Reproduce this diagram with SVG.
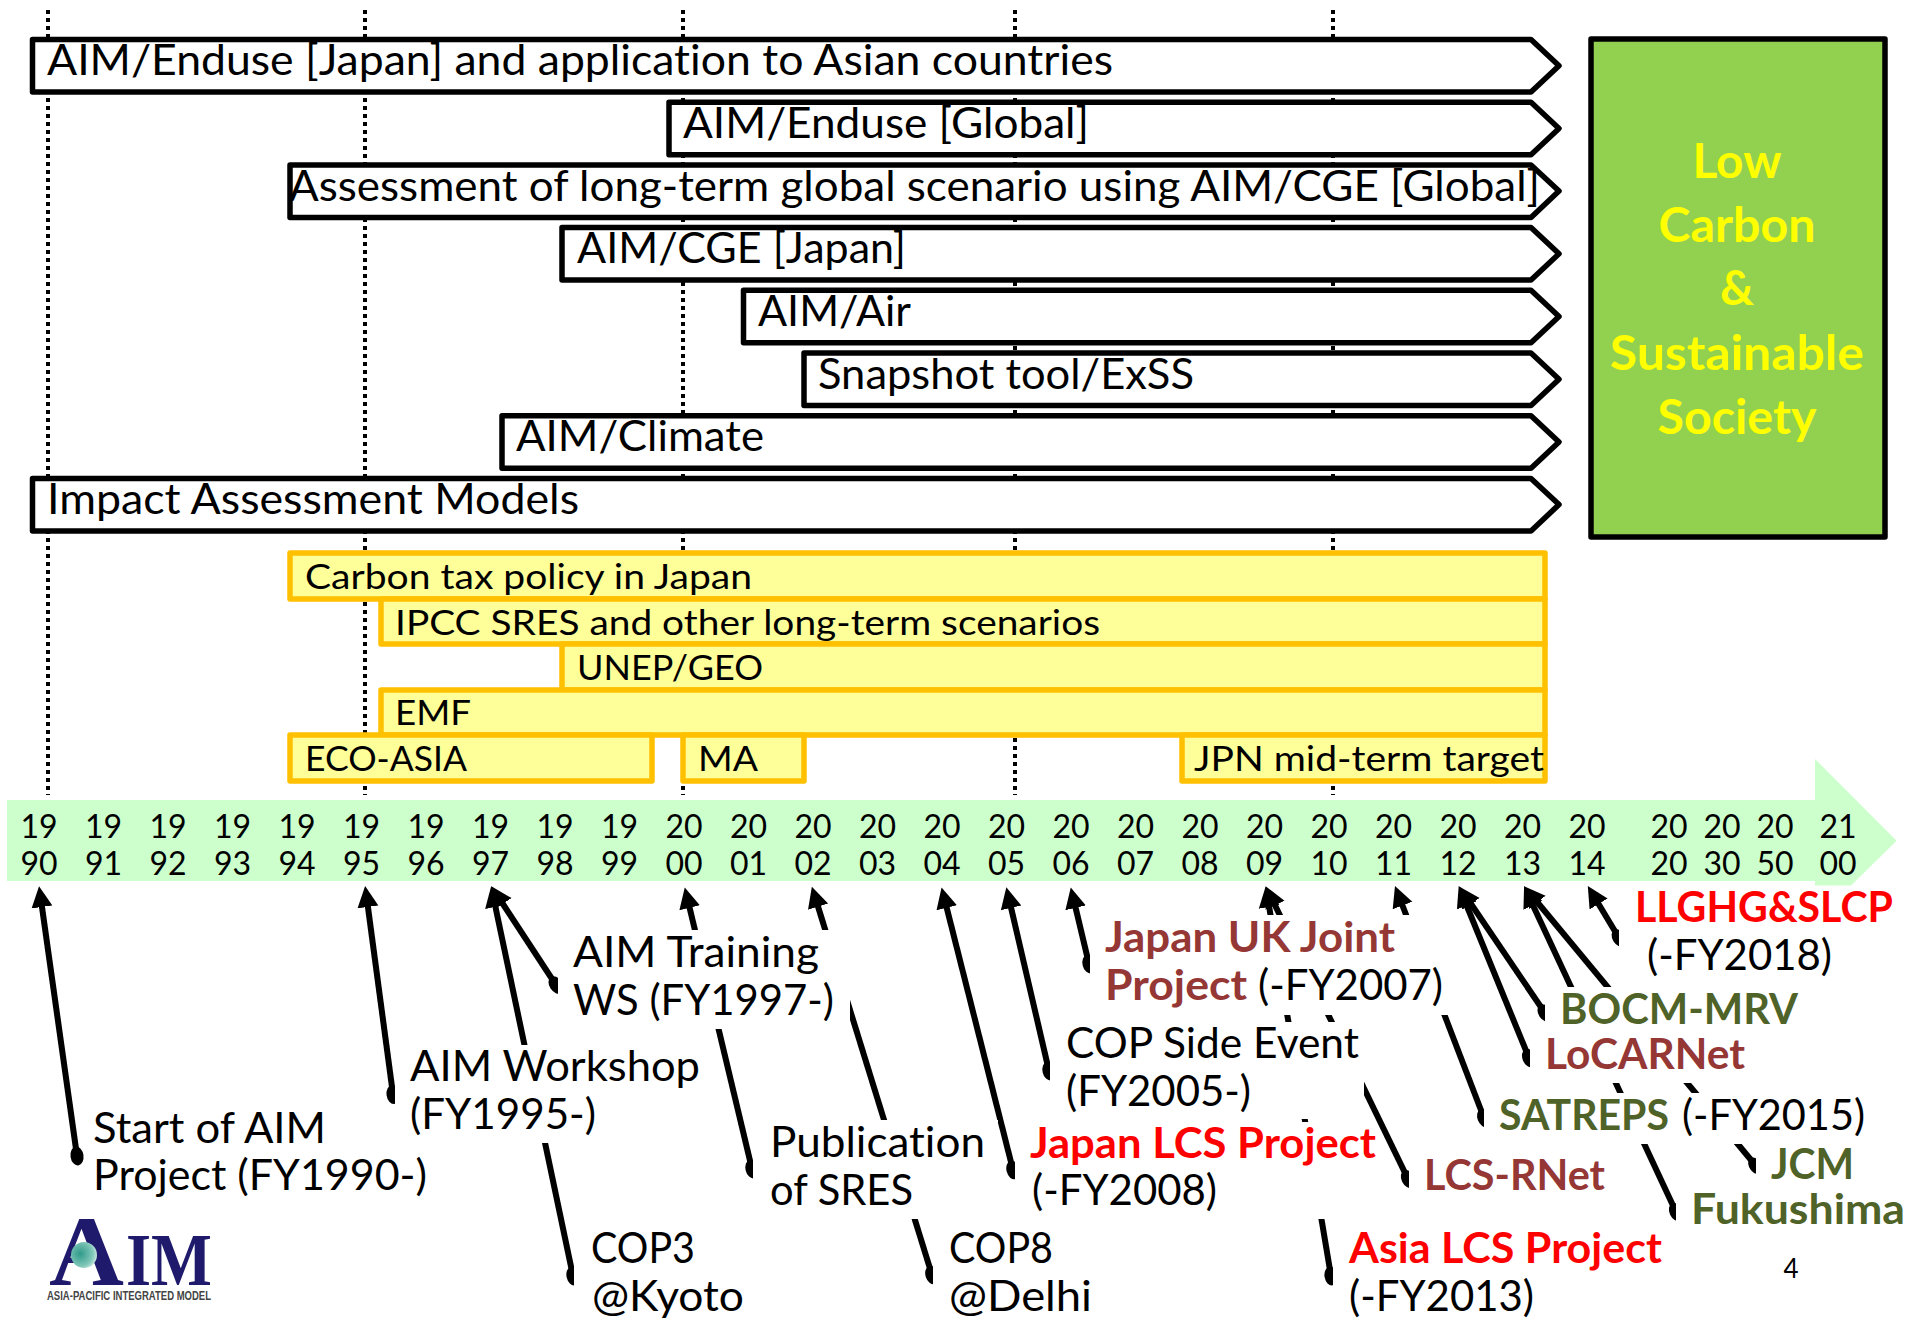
<svg xmlns="http://www.w3.org/2000/svg" width="1918" height="1318" viewBox="0 0 1918 1318">
<style>
text{font-family:"Lato","Liberation Sans",sans-serif;fill:#000;font-variant-ligatures:none}
.c{font-size:42px}.y{font-size:34px}.d{font-size:32px;text-anchor:middle}.l{font-size:42px}
.b{font-weight:700}.red{fill:#f00}.brn{fill:#953735}.olv{fill:#4f6228}
.chev{fill:#fff;stroke:#000;stroke-width:5.5;stroke-linejoin:round}
.bar{fill:#ffff99;stroke:#ffc000;stroke-width:5.5;stroke-linejoin:round}
.dash{stroke:#000;stroke-width:4;stroke-dasharray:4 4;fill:none}
.conn{stroke:#000;stroke-width:6;fill:none;marker-start:url(#head);marker-end:url(#tail)}
.mask{fill:#fff}
</style>
<defs>
<marker id="head" markerUnits="userSpaceOnUse" markerWidth="24" markerHeight="24" refX="7" refY="12" orient="auto-start-reverse"><path d="M0 1.5L21 12L0 22.5Z" fill="#000"/></marker>
<marker id="tail" markerUnits="userSpaceOnUse" markerWidth="20" markerHeight="16" refX="10" refY="8" orient="auto"><ellipse cx="10" cy="8" rx="9.5" ry="6.5" fill="#000"/></marker>
<radialGradient id="globe" cx="0.35" cy="0.45" r="0.8"><stop offset="0" stop-color="#2f9a8a"/><stop offset="0.6" stop-color="#7fc6b8"/><stop offset="1" stop-color="#ffffff"/></radialGradient>
</defs>
<rect width="1918" height="1318" fill="#fff"/>
<g id="guides">
<path class="dash" d="M48 10V795M365 10V795M683 10V795M1015 10V795M1333 10V795"/>
</g>
<g id="models">
<g id="m1"><path class="chev" d="M32.5 39.5H1531L1559 65.7L1531 92H32.5Z"/><text class="c" x="47" y="75" textLength="1066" lengthAdjust="spacingAndGlyphs">AIM/Enduse [Japan] and application to Asian countries</text></g>
<g id="m2"><path class="chev" d="M669 102.2H1531L1559 128.4L1531 154.7H669Z"/><text class="c" x="683" y="137.7" textLength="406" lengthAdjust="spacingAndGlyphs">AIM/Enduse [Global]</text></g>
<g id="m3"><path class="chev" d="M290 164.9H1531L1559 191.1L1531 217.4H290Z"/><text class="c" x="289" y="201" textLength="1251" lengthAdjust="spacingAndGlyphs">Assessment of long-term global scenario using AIM/CGE [Global]</text></g>
<g id="m4"><path class="chev" d="M562 227.6H1531L1559 253.8L1531 280.1H562Z"/><text class="c" x="577" y="263.1" textLength="329" lengthAdjust="spacingAndGlyphs">AIM/CGE [Japan]</text></g>
<g id="m5"><path class="chev" d="M743.5 290.3H1531L1559 316.5L1531 342.8H743.5Z"/><text class="c" x="758" y="325.8" textLength="153" lengthAdjust="spacingAndGlyphs">AIM/Air</text></g>
<g id="m6"><path class="chev" d="M804 353H1531L1559 379.2L1531 405.5H804Z"/><text class="c" x="818" y="388.5" textLength="376" lengthAdjust="spacingAndGlyphs">Snapshot tool/ExSS</text></g>
<g id="m7"><path class="chev" d="M502 415.7H1531L1559 441.9L1531 468.2H502Z"/><text class="c" x="516" y="451.2" textLength="248" lengthAdjust="spacingAndGlyphs">AIM/Climate</text></g>
<g id="m8"><path class="chev" d="M32.5 478.4H1531L1559 504.6L1531 530.9H32.5Z"/><text class="c" x="47" y="513.9" textLength="532" lengthAdjust="spacingAndGlyphs">Impact Assessment Models</text></g>
</g>
<g id="goal">
<rect x="1591" y="39" width="294" height="498" fill="#92d050" stroke="#000" stroke-width="5.5" stroke-linejoin="round"/>
<g font-weight="700" font-size="47" text-anchor="middle">
<text x="1737" y="177.5" style="fill:#ff0" textLength="89" lengthAdjust="spacingAndGlyphs">Low</text>
<text x="1737" y="242" style="fill:#ff0" textLength="157" lengthAdjust="spacingAndGlyphs">Carbon</text>
<text x="1737" y="305" style="fill:#ff0">&amp;</text>
<text x="1737" y="370" style="fill:#ff0" textLength="254" lengthAdjust="spacingAndGlyphs">Sustainable</text>
<text x="1737" y="434" style="fill:#ff0" textLength="159" lengthAdjust="spacingAndGlyphs">Society</text>
</g>
</g>
<g id="policies">
<g id="p1"><rect class="bar" x="290" y="553" width="1255" height="46"/><text class="y" x="305" y="589" textLength="447" lengthAdjust="spacingAndGlyphs">Carbon tax policy in Japan</text></g>
<g id="p2"><rect class="bar" x="381" y="599" width="1164" height="45"/><text class="y" x="395" y="635" textLength="705" lengthAdjust="spacingAndGlyphs">IPCC SRES and other long-term scenarios</text></g>
<g id="p3"><rect class="bar" x="562" y="644" width="983" height="46"/><text class="y" x="577" y="680" textLength="186" lengthAdjust="spacingAndGlyphs">UNEP/GEO</text></g>
<g id="p4"><rect class="bar" x="381" y="690" width="1164" height="45"/><text class="y" x="395" y="725" textLength="76" lengthAdjust="spacingAndGlyphs">EMF</text></g>
<g id="p5"><rect class="bar" x="290" y="735" width="362" height="46"/><text class="y" x="305" y="771" textLength="162" lengthAdjust="spacingAndGlyphs">ECO-ASIA</text></g>
<g id="p6"><rect class="bar" x="683" y="735" width="121" height="46"/><text class="y" x="698" y="771" textLength="60" lengthAdjust="spacingAndGlyphs">MA</text></g>
<g id="p7"><rect class="bar" x="1182" y="735" width="363" height="46"/><text class="y" x="1194" y="771" textLength="350" lengthAdjust="spacingAndGlyphs">JPN mid-term target</text></g>
</g>
<g id="timeline">
<path d="M7 800H1815V759L1896.6 840.7L1851 885.6H1815V881H7Z" fill="#ccffcc"/>
<g class="years">
<text class="d" x="39" y="838">19</text><text class="d" x="39" y="875">90</text>
<text class="d" x="103.5" y="838">19</text><text class="d" x="103.5" y="875">91</text>
<text class="d" x="168" y="838">19</text><text class="d" x="168" y="875">92</text>
<text class="d" x="232.5" y="838">19</text><text class="d" x="232.5" y="875">93</text>
<text class="d" x="297" y="838">19</text><text class="d" x="297" y="875">94</text>
<text class="d" x="361.5" y="838">19</text><text class="d" x="361.5" y="875">95</text>
<text class="d" x="426" y="838">19</text><text class="d" x="426" y="875">96</text>
<text class="d" x="490.5" y="838">19</text><text class="d" x="490.5" y="875">97</text>
<text class="d" x="555" y="838">19</text><text class="d" x="555" y="875">98</text>
<text class="d" x="619.5" y="838">19</text><text class="d" x="619.5" y="875">99</text>
<text class="d" x="684" y="838">20</text><text class="d" x="684" y="875">00</text>
<text class="d" x="748.5" y="838">20</text><text class="d" x="748.5" y="875">01</text>
<text class="d" x="813" y="838">20</text><text class="d" x="813" y="875">02</text>
<text class="d" x="877.5" y="838">20</text><text class="d" x="877.5" y="875">03</text>
<text class="d" x="942" y="838">20</text><text class="d" x="942" y="875">04</text>
<text class="d" x="1006.5" y="838">20</text><text class="d" x="1006.5" y="875">05</text>
<text class="d" x="1071" y="838">20</text><text class="d" x="1071" y="875">06</text>
<text class="d" x="1135.5" y="838">20</text><text class="d" x="1135.5" y="875">07</text>
<text class="d" x="1200" y="838">20</text><text class="d" x="1200" y="875">08</text>
<text class="d" x="1264.5" y="838">20</text><text class="d" x="1264.5" y="875">09</text>
<text class="d" x="1329" y="838">20</text><text class="d" x="1329" y="875">10</text>
<text class="d" x="1393.5" y="838">20</text><text class="d" x="1393.5" y="875">11</text>
<text class="d" x="1458" y="838">20</text><text class="d" x="1458" y="875">12</text>
<text class="d" x="1522.5" y="838">20</text><text class="d" x="1522.5" y="875">13</text>
<text class="d" x="1587" y="838">20</text><text class="d" x="1587" y="875">14</text>
<text class="d" x="1669" y="838">20</text><text class="d" x="1669" y="875">20</text>
<text class="d" x="1722" y="838">20</text><text class="d" x="1722" y="875">30</text>
<text class="d" x="1775" y="838">20</text><text class="d" x="1775" y="875">50</text>
<text class="d" x="1838" y="838">21</text><text class="d" x="1838" y="875">00</text>
</g>
</g>
<g id="connectors">
<path class="conn" d="M41 900L77 1156"/>
<path class="conn" d="M367 900L393 1094.5"/>
<path class="conn" d="M499 898L556 985"/>
<path class="conn" d="M494 900L573 1276"/>
<path class="conn" d="M688 901L752 1169"/>
<path class="conn" d="M816 900L932 1275"/>
<path class="conn" d="M945 901L1013 1170"/>
<path class="conn" d="M1009.5 901L1049 1071"/>
<path class="conn" d="M1074 901L1089 964"/>
<path class="conn" d="M1268 900L1331 1276"/>
<path class="conn" d="M1272 899L1408 1179"/>
<path class="conn" d="M1400 899L1484 1118"/>
<path class="conn" d="M1467 898L1545 1013"/>
<path class="conn" d="M1464 899L1529 1058"/>
<path class="conn" d="M1530 899L1676 1212"/>
<path class="conn" d="M1533 897L1756 1166"/>
<path class="conn" d="M1595 898L1619 938"/>
</g>
<g id="labels">
<g id="start"><text class="l" x="93" y="1143" textLength="233" lengthAdjust="spacingAndGlyphs">Start of AIM</text><text class="l" x="93" y="1190" textLength="334" lengthAdjust="spacingAndGlyphs">Project (FY1990-)</text></g>
<g id="workshop"><rect class="mask" x="395" y="1045" width="321" height="98"/><text class="l" x="410" y="1081" textLength="290" lengthAdjust="spacingAndGlyphs">AIM Workshop</text><text class="l" x="410" y="1129" textLength="186" lengthAdjust="spacingAndGlyphs">(FY1995-)</text></g>
<g id="training"><rect class="mask" x="558" y="930" width="292" height="99"/><text class="l" x="573" y="967" textLength="246" lengthAdjust="spacingAndGlyphs">AIM Training</text><text class="l" x="573" y="1015" textLength="261" lengthAdjust="spacingAndGlyphs">WS (FY1997-)</text></g>
<g id="cop3"><rect class="mask" x="574" y="1219" width="180" height="99"/><text class="l" x="591" y="1263" textLength="104" lengthAdjust="spacingAndGlyphs">COP3</text><text class="l" x="592" y="1311" textLength="152" lengthAdjust="spacingAndGlyphs">@Kyoto</text></g>
<g id="sres"><rect class="mask" x="753" y="1120" width="245" height="99"/><text class="l" x="770" y="1157" textLength="215" lengthAdjust="spacingAndGlyphs">Publication</text><text class="l" x="770" y="1205" textLength="143" lengthAdjust="spacingAndGlyphs">of SRES</text></g>
<g id="cop8"><rect class="mask" x="933" y="1219" width="170" height="99"/><text class="l" x="949" y="1263" textLength="104" lengthAdjust="spacingAndGlyphs">COP8</text><text class="l" x="949" y="1311" textLength="143" lengthAdjust="spacingAndGlyphs">@Delhi</text></g>
<g id="cop-side"><rect class="mask" x="1050" y="1022" width="314" height="97"/><text class="l" x="1066" y="1058" textLength="293" lengthAdjust="spacingAndGlyphs">COP Side Event</text><text class="l" x="1066" y="1106" textLength="185" lengthAdjust="spacingAndGlyphs">(FY2005-)</text></g>
<g id="japan-uk"><rect class="mask" x="1090" y="915" width="360" height="100"/><text class="l b brn" x="1105" y="952" textLength="290" lengthAdjust="spacingAndGlyphs">Japan UK Joint</text><text class="l b brn" x="1105" y="1000" textLength="142" lengthAdjust="spacingAndGlyphs">Project</text><text class="l" x="1258" y="1000" textLength="185" lengthAdjust="spacingAndGlyphs">(-FY2007)</text></g>
<g id="japan-lcs"><rect class="mask" x="1015" y="1122" width="361" height="97"/><text class="l b red" x="1030" y="1158" textLength="346" lengthAdjust="spacingAndGlyphs">Japan LCS Project</text><text class="l" x="1032" y="1205" textLength="185" lengthAdjust="spacingAndGlyphs">(-FY2008)</text></g>
<g id="lcs-rnet"><rect class="mask" x="1409" y="1140" width="210" height="70"/><text class="l b brn" x="1424" y="1190" textLength="181" lengthAdjust="spacingAndGlyphs">LCS-RNet</text></g>
<g id="asia-lcs"><rect class="mask" x="1333" y="1219" width="335" height="99"/><text class="l b red" x="1349" y="1263" textLength="313" lengthAdjust="spacingAndGlyphs">Asia LCS Project</text><text class="l" x="1349" y="1311" textLength="185" lengthAdjust="spacingAndGlyphs">(-FY2013)</text></g>
<g id="satreps"><rect class="mask" x="1484" y="1093" width="386" height="51"/><text class="l b olv" x="1499" y="1130" textLength="170" lengthAdjust="spacingAndGlyphs">SATREPS</text><text class="l" x="1682" y="1130" textLength="183" lengthAdjust="spacingAndGlyphs">(-FY2015)</text></g>
<g id="bocm"><rect class="mask" x="1545" y="987" width="255" height="53"/><text class="l b olv" x="1560" y="1024" textLength="238" lengthAdjust="spacingAndGlyphs">BOCM-MRV</text></g>
<g id="locarnet"><rect class="mask" x="1530" y="1040" width="270" height="43"/><text class="l b brn" x="1545" y="1069" textLength="200" lengthAdjust="spacingAndGlyphs">LoCARNet</text></g>
<g id="jcm"><rect class="mask" x="1756" y="1144" width="162" height="40"/><text class="l b olv" x="1771" y="1179" textLength="83" lengthAdjust="spacingAndGlyphs">JCM</text></g>
<g id="fukushima"><rect class="mask" x="1676" y="1184" width="242" height="50"/><text class="l b olv" x="1691" y="1224" textLength="214" lengthAdjust="spacingAndGlyphs">Fukushima</text></g>
<g id="llghg"><rect class="mask" x="1619" y="886" width="299" height="100"/><text class="l b red" x="1635" y="922" textLength="258" lengthAdjust="spacingAndGlyphs">LLGHG&amp;SLCP</text><text class="l" x="1647" y="970" textLength="185" lengthAdjust="spacingAndGlyphs">(-FY2018)</text></g>
<g id="page"><text x="1791" y="1278" font-size="26" text-anchor="middle">4</text></g>
</g>
<g id="logo">
<text x="49" y="1285" font-size="100" font-weight="700" textLength="75" lengthAdjust="spacingAndGlyphs" style="font-family:'Liberation Serif',serif;fill:#1f1a6b">A</text>
<text x="126" y="1285" font-size="73" font-weight="700" textLength="86" lengthAdjust="spacingAndGlyphs" style="font-family:'Liberation Serif',serif;fill:#1f1a6b">IM</text>
<circle cx="84" cy="1255" r="13" fill="url(#globe)"/>
<text x="47" y="1300" font-size="12" font-weight="700" textLength="164" lengthAdjust="spacingAndGlyphs" style="font-family:'Liberation Sans',sans-serif;fill:#444">ASIA-PACIFIC INTEGRATED MODEL</text>
</g>
</svg>
